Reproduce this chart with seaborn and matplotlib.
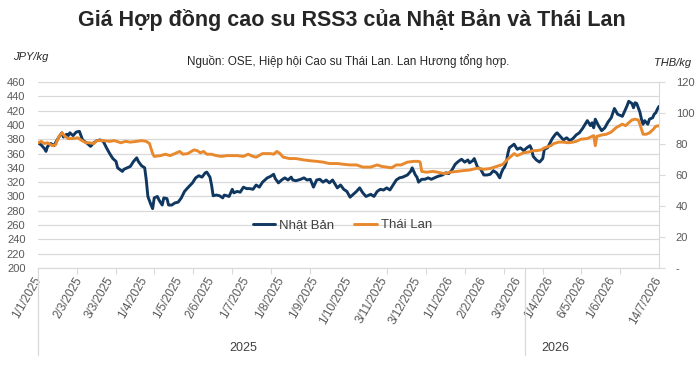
import numpy as np
import pandas as pd
import seaborn as sns
import matplotlib.pyplot as plt
from matplotlib.lines import Line2D

# ==============================
# Data
# ==============================
# x = trading session counted from 1/1/2025 (0) to 14/7/2026 (390)
jp_session = [0, 2, 4, 5, 6, 8, 10, 12, 14, 15,
              16, 18, 19, 20, 22, 24, 26, 27, 28, 31,
              33, 35, 37, 39, 41, 43, 45, 47, 49, 50,
              53, 54, 56, 58, 60, 62, 63, 65, 67, 68,
              69, 71, 72, 73, 75, 76, 78, 79, 81, 82,
              84, 86, 88, 90, 92, 94, 97, 99, 101, 103,
              105, 106, 108, 109, 110, 112, 114, 116, 117, 120,
              122, 123, 125, 127, 129, 131, 133, 135, 137, 139,
              141, 144, 146, 148, 149, 151, 153, 155, 157, 159,
              160, 162, 165, 167, 169, 171, 173, 175, 177, 179,
              181, 183, 185, 188, 190, 192, 194, 196, 198, 200,
              202, 204, 206, 209, 211, 213, 215, 217, 219, 221,
              223, 225, 227, 229, 232, 234, 235, 237, 238, 239,
              241, 243, 245, 247, 249, 251, 254, 256, 258, 260,
              262, 264, 266, 268, 270, 271, 273, 274, 276, 278,
              280, 282, 284, 286, 288, 290, 291, 292, 293, 294,
              295, 296, 299, 301, 303, 305, 307, 309, 310, 311,
              313, 315, 317, 318, 320, 323, 325, 326, 328, 330,
              332, 334, 336, 338, 340, 342, 345, 347, 348, 349,
              350, 352, 354, 356, 358, 360, 362, 364, 367, 368,
              370, 371, 373, 374, 375, 376, 378, 379, 380, 381,
              383, 384, 386, 387, 388, 389, 390]
# JPY/kg
jp_price = [375, 372, 367, 363, 370, 374, 371, 379, 386, 389,
            383, 387, 385, 389, 385, 390, 391, 385, 379, 374,
            370, 375, 378, 379, 377, 368, 360, 353, 349, 340,
            335, 338, 340, 342, 349, 354, 349, 343, 340, 323,
            300, 288, 283, 298, 300, 295, 288, 298, 297, 288,
            288, 291, 292, 298, 307, 312, 319, 326, 329, 327,
            333, 334, 327, 316, 301, 302, 301, 298, 302, 300,
            310, 305, 307, 306, 313, 311, 311, 310, 316, 313,
            320, 326, 328, 331, 325, 319, 323, 326, 323, 327,
            323, 322, 324, 326, 323, 324, 313, 323, 324, 320,
            323, 319, 323, 312, 316, 310, 307, 299, 303, 307,
            312, 305, 300, 303, 300, 307, 310, 309, 312, 309,
            316, 323, 326, 327, 330, 335, 340, 330, 327, 320,
            324, 324, 326, 324, 326, 328, 330, 333, 332, 337,
            345, 349, 352, 348, 351, 347, 350, 353, 341, 338,
            330, 330, 331, 336, 333, 326, 333, 338, 341, 347,
            359, 368, 373, 366, 368, 364, 368, 371, 366, 356,
            351, 348, 353, 366, 368, 381, 387, 389, 384, 379,
            382, 378, 381, 386, 389, 395, 406, 399, 403, 396,
            408, 399, 392, 396, 404, 410, 423, 415, 412, 417,
            427, 433, 430, 424, 431, 430, 418, 408, 401, 406,
            401, 408, 410, 415, 417, 422, 426]

th_session = [0, 2, 4, 6, 9, 11, 13, 15, 17, 19,
              22, 25, 27, 30, 32, 35, 37, 41, 45, 48,
              52, 55, 58, 62, 65, 68, 70, 72, 73, 77,
              80, 83, 87, 89, 91, 94, 98, 100, 102, 104,
              106, 109, 112, 115, 119, 122, 125, 129, 132, 135,
              137, 141, 146, 148, 150, 152, 154, 158, 162, 167,
              171, 175, 179, 183, 188, 192, 196, 200, 204, 209,
              213, 216, 219, 222, 225, 228, 232, 236, 239, 240,
              241, 244, 248, 251, 255, 259, 263, 267, 271, 276,
              280, 284, 288, 292, 294, 296, 299, 301, 303, 305,
              308, 311, 313, 316, 318, 322, 324, 327, 330, 333,
              336, 338, 341, 345, 348, 349, 350, 351, 354, 357,
              360, 363, 367, 369, 371, 373, 375, 377, 378, 380,
              382, 384, 386, 388, 390]
# THB/kg
th_price = [80.8, 81.7, 80.3, 80.8, 78.9, 79.4, 84.5, 87.2, 84.9, 83.5,
            83.5, 84.0, 82.6, 80.8, 80.8, 80.3, 82.2, 82.2, 81.7, 82.2,
            80.8, 81.7, 81.2, 81.7, 82.2, 81.7, 80.3, 73.8, 72.0, 72.5,
            73.4, 72.5, 74.3, 75.2, 73.4, 73.8, 76.2, 75.7, 74.3, 75.2,
            73.4, 73.4, 72.5, 72.0, 72.5, 72.5, 72.5, 72.0, 73.4, 72.0,
            71.5, 73.8, 73.8, 73.4, 75.2, 73.8, 71.5, 70.6, 70.6, 69.7,
            69.2, 68.8, 68.3, 67.4, 67.4, 66.9, 66.5, 66.5, 65.1, 65.1,
            66.5, 65.5, 65.1, 64.6, 66.5, 66.5, 68.3, 68.8, 68.8, 68.3,
            62.3, 61.8, 62.3, 61.8, 60.9, 61.8, 62.3, 62.8, 63.2, 64.4,
            63.7, 64.2, 65.5, 66.9, 69.2, 71.1, 73.8, 72.5, 73.4, 74.3,
            74.8, 75.7, 75.7, 76.2, 77.5, 78.9, 80.3, 81.2, 81.2, 80.8,
            81.2, 81.7, 83.1, 83.5, 84.9, 85.4, 78.9, 84.9, 85.8, 86.3,
            87.7, 90.5, 92.8, 91.8, 93.7, 95.5, 96.0, 95.5, 92.8, 86.3,
            86.3, 87.2, 89.0, 91.4, 91.8]

tick_sessions = [0, 26, 46, 67, 89, 109, 131, 153, 174, 195,
                 218, 239, 259, 280, 302, 322, 343, 361, 390]
tick_labels = ["1/1/2025", "2/3/2025", "3/3/2025", "1/4/2025", "1/5/2025",
               "2/6/2025", "1/7/2025", "1/8/2025", "1/9/2025", "1/10/2025",
               "3/11/2025", "3/12/2025", "1/1/2026", "2/2/2026", "3/3/2026",
               "1/4/2026", "6/5/2026", "1/6/2026", "14/7/2026"]
year_labels = ["2025", "2026"]
year_label_sessions = [129, 325]
year_break_sessions = [0, 306]

NAVY = "#0f3760"
ORANGE = "#e8892e"
GRID = "#d9d9d9"
TXT = "#595959"

# ==============================
# Plot
# ==============================
sns.set_style("white")
plt.rcParams["font.family"] = ["Liberation Sans", "DejaVu Sans"]

fig = plt.figure(figsize=(7, 3.69), dpi=100)
ax = fig.add_axes([0.0543, 0.2737, 0.8871, 0.5041])

jp = pd.DataFrame({"session": jp_session, "price": jp_price})
th = pd.DataFrame({"session": th_session, "price": th_price})

sns.lineplot(data=jp, x="session", y="price", ax=ax, color=NAVY, lw=2.1)
ax2 = ax.twinx()
sns.lineplot(data=th, x="session", y="price", ax=ax2, color=ORANGE, lw=2.1)

ax.set_xlim(0, 390)
ax.set_ylim(200, 460)
ax.set_yticks(range(200, 461, 20))
ax2.set_ylim(0, 120)
ax2.set_yticks(range(0, 121, 20))
ax2.set_yticklabels(["-"] + [str(v) for v in range(20, 121, 20)])
for a in (ax, ax2):
    a.set_xlabel("")
    a.set_ylabel("")

ax.yaxis.grid(True, color=GRID, lw=0.9)
ax.set_axisbelow(True)

for s in ["top", "left", "right"]:
    ax.spines[s].set_visible(False)
for s in ["top", "left", "bottom"]:
    ax2.spines[s].set_visible(False)
ax.spines["bottom"].set_color(GRID)
ax2.spines["right"].set_color(GRID)

ax.set_xticks(tick_sessions)
ax.set_xticklabels(tick_labels, rotation=60, ha="right", va="center",
                   rotation_mode="anchor")
ax.set_xticks(np.linspace(0, 390, 17), minor=True)
ax.tick_params(axis="x", which="major", length=0, pad=7, labelsize=8.5,
               labelcolor=TXT)
ax.tick_params(axis="x", which="minor", bottom=True, length=4, width=0.8,
               color=GRID, direction="out")
ax.tick_params(axis="y", left=False, length=0, pad=9, labelsize=8,
               labelcolor=TXT)
ax2.tick_params(axis="y", right=True, length=4, width=0.8, color=GRID,
                pad=8, labelsize=8, labelcolor=TXT)

# year groups under the date labels
xt = ax.get_xaxis_transform()
for s in year_break_sessions:
    ax.plot([s, s], [0, -0.47], transform=xt, color=GRID, lw=0.9,
            clip_on=False)
for s, lab in zip(year_label_sessions, year_labels):
    ax.text(s, -0.43, lab, transform=xt, ha="center", va="center",
            fontsize=9, color="#404040")

handles = [Line2D([], [], color=NAVY, lw=2.1),
           Line2D([], [], color=ORANGE, lw=2.1)]
ax2.legend(handles, ["Nhật Bản", "Thái Lan"], loc="center",
           bbox_to_anchor=(0.49, 0.231), ncol=2, frameon=False,
           fontsize=9.5, handlelength=1.7, handletextpad=0.3,
           columnspacing=1.5, labelcolor="#404040")

fig.text(0.503, 0.946, "Giá Hợp đồng cao su RSS3 của Nhật Bản và Thái Lan",
         ha="center", va="center", fontsize=15.5, fontweight="bold",
         color="#262626")
fig.text(0.498, 0.835, "Nguồn: OSE, Hiệp hội Cao su Thái Lan. Lan Hương tổng hợp.",
         ha="center", va="center", fontsize=8.4, color="#262626")
fig.text(0.019, 0.846, "JPY/kg", ha="left", va="center", fontsize=8,
         style="italic", color="#262626")
fig.text(0.988, 0.829, "THB/kg", ha="right", va="center", fontsize=8,
         style="italic", color="#262626")

fig.savefig("out.png", dpi=100)
